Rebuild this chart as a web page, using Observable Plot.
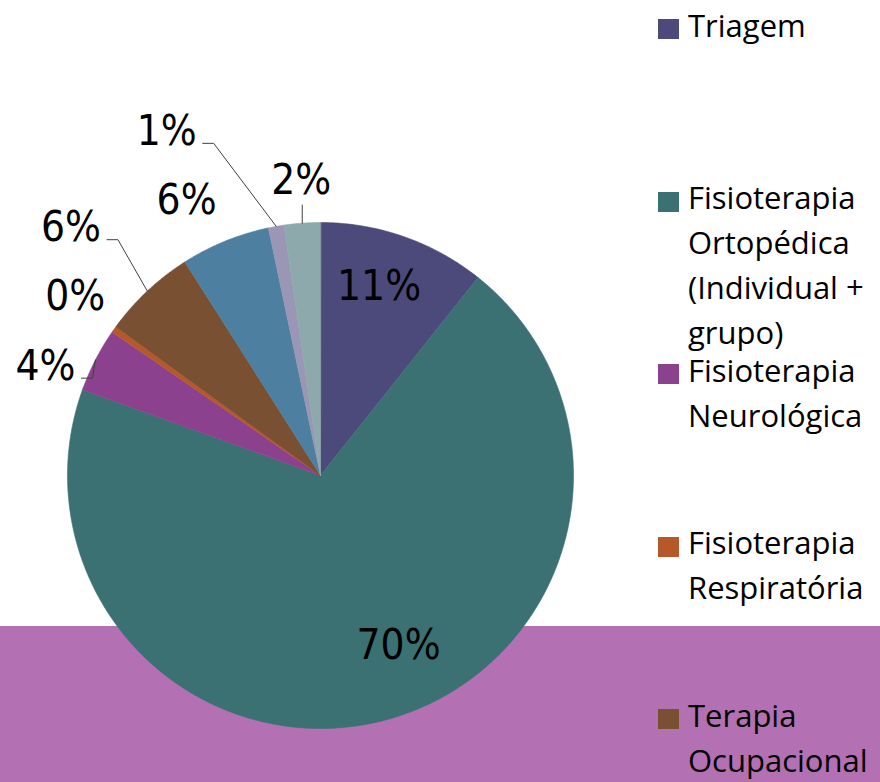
<!DOCTYPE html>
<html><head><meta charset="utf-8">
<script src="https://cdn.jsdelivr.net/npm/d3@7"></script>
<script src="https://cdn.jsdelivr.net/npm/@observablehq/plot@0.6"></script>
<style>
body{margin:0;background:#fff;}
#wrap{position:relative;width:880px;height:782px;overflow:hidden;
  background:linear-gradient(to bottom,#ffffff 0px,#ffffff 626px,#b370b3 626px,#b370b3 782px);}
.item{position:absolute;left:658px;}
.sw{position:absolute;left:0;top:0;width:21px;height:20px;}
.lt{position:absolute;left:30px;width:200px;font-family:"Open Sans",sans-serif;font-size:31px;line-height:45px;color:#000;}
</style></head><body>
<div id="wrap"></div>
<script>
// ---- data ----
const categories = [
  "Triagem",
  "Fisioterapia Ortopédica (Individual + grupo)",
  "Fisioterapia Neurológica",
  "Fisioterapia Respiratória",
  "Terapia Ocupacional",
  "Categoria 6 (fora do quadro)",
  "Categoria 7 (fora do quadro)",
  "Categoria 8 (fora do quadro)"
];
const values = [10.7, 69.8, 4.1, 0.4, 6.0, 5.7, 1.0, 2.3];
const colors = ["#4b4a7b", "#3b7173", "#8b418e", "#b5592a", "#7a5033", "#4d80a0", "#9a97b6", "#8ea9ab"];
const legendShown = 5;

// ---- layout ----
const W = 880, H = 782, R = 253, CX = 320, CY = 475;
const labelAngleShift = [-2, -8.8, -5.5, 0.8, -2, -3.8, -14, 0.4]; // degrees
const labelRadius = [0.78, 0.74, 1.17, 1.2, 1.39, 1.21, 1.49, 1.17];
const leaderType = [null, null, "side", null, "side", null, "side", "below"];

const total = d3.sum(values);
let acc = 0;
const slices = categories.map((c, i) => {
  const a0 = acc / total * 2 * Math.PI; acc += values[i];
  const a1 = acc / total * 2 * Math.PI;
  return {cat: c, i, a0, a1, mid: (a0 + a1) / 2, pct: Math.round(values[i] / total * 100) + "%"};
});

const pts = [];
for (const s of slices) {
  pts.push({cat: s.cat, x: 0, y: 0});
  const n = Math.max(2, Math.ceil((s.a1 - s.a0) / (Math.PI / 360)));
  for (let k = 0; k <= n; k++) {
    const a = s.a0 + (s.a1 - s.a0) * k / n;
    pts.push({cat: s.cat, x: Math.sin(a), y: Math.cos(a)});
  }
}

const labels = slices.map(s => {
  const a = s.mid + labelAngleShift[s.i] * Math.PI / 180;
  const r = labelRadius[s.i];
  return {cat: s.cat, i: s.i, text: s.pct, x: r * Math.sin(a), y: r * Math.cos(a)};
});

const leaders = [];
labels.forEach(l => {
  const t = leaderType[l.i];
  if (!t) return;
  const s = slices[l.i];
  const rim = {x: Math.sin(s.mid), y: Math.cos(s.mid)};
  if (t === "side") {
    const start = {x: l.x + 36 / R, y: l.y - 12 / R};
    const elbow = {x: start.x + 11 / R, y: start.y};
    leaders.push({id: l.i, ...start}, {id: l.i, ...elbow}, {id: l.i, ...rim});
  } else {
    leaders.push({id: l.i, x: rim.x, y: l.y - 25 / R}, {id: l.i, ...rim});
  }
});

const chart = Plot.plot({
  width: W, height: H,
  margin: 0,
  style: {background: "none", overflow: "visible"},
  x: {domain: [-CX / R, (W - CX) / R], range: [0, W], axis: null},
  y: {domain: [(CY - H) / R, CY / R], range: [H, 0], axis: null},
  color: {domain: categories, range: colors},
  marks: [
    Plot.line(pts, {x: "x", y: "y", z: "cat", fill: "cat", stroke: "cat", strokeWidth: 0.6, curve: "linear-closed"}),
    Plot.line(leaders, {x: "x", y: "y", z: "id", stroke: "#404040", strokeWidth: 1}),
    Plot.text(labels, {x: "x", y: "y", text: "text", fontSize: 42,
      fontFamily: "'Liberation Sans Narrow','DejaVu Sans Condensed',sans-serif", fill: "#000"})
  ]
});
const wrap = document.getElementById("wrap");
wrap.appendChild(chart);
chart.style.position = "absolute"; chart.style.left = "0"; chart.style.top = "0";

// ---- legend ----
categories.slice(0, legendShown).forEach((c, i) => {
  const top = 19 + i * 172.5;
  const item = document.createElement("div");
  item.className = "item"; item.style.top = top + "px";
  const sw = document.createElement("div");
  sw.className = "sw"; sw.style.background = colors[i];
  const lt = document.createElement("div");
  lt.className = "lt"; lt.style.top = "-16.5px"; lt.textContent = c;
  item.appendChild(sw); item.appendChild(lt);
  wrap.appendChild(item);
});
</script>
</body></html>
